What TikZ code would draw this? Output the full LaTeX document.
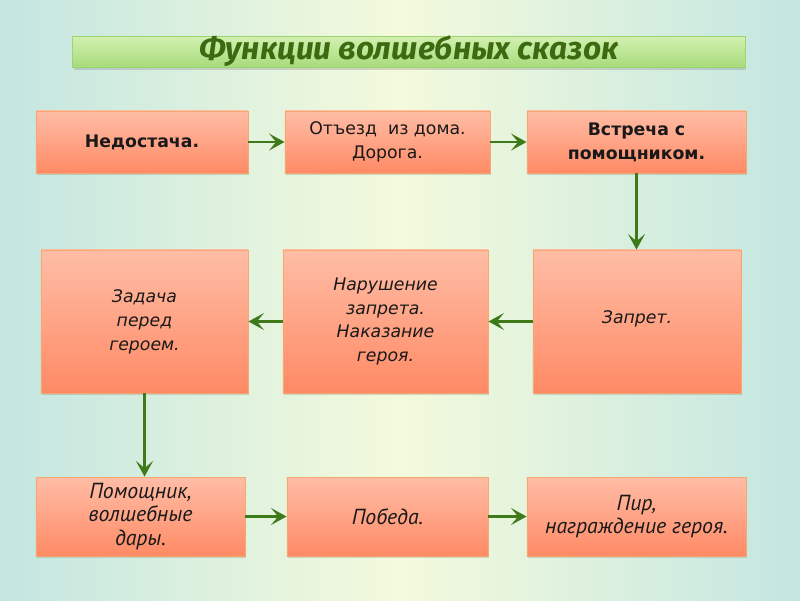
\documentclass[tikz,border=0pt]{standalone}
\usepackage{fontspec}
\setmainfont{DejaVu Sans}
\newfontfamily\titlefont{Fira Sans}
\newfontfamily\narrowfont{PT Sans}
\usetikzlibrary{arrows.meta,shadows,fadings}
\definecolor{bgteal}{HTML}{C3E6E1}
\definecolor{bgmid}{HTML}{F4FADC}
\definecolor{bandblue}{HTML}{CFEAF4}
\definecolor{boxtop}{HTML}{FFBDA6}
\definecolor{boxbot}{HTML}{FF8A65}
\definecolor{boxline}{HTML}{F5A870}
\definecolor{arrgreen}{HTML}{3E7A19}
\definecolor{titletop}{HTML}{D3F0B2}
\definecolor{titlebot}{HTML}{A7DB7B}
\definecolor{titleline}{HTML}{9CD46E}
\definecolor{titletext}{HTML}{3B6A10}
\tikzfading[name=band fade, top color=transparent!100, middle color=transparent!0, bottom color=transparent!100]
\tikzset{
	stage/.style={rectangle, draw=boxline, line width=0.6pt, top color=boxtop, bottom color=boxbot,
		align=center, inner sep=0pt, text=black!90, font=\fontsize{12.3}{17}\selectfont,
		drop shadow={opacity=0.3, shadow xshift=0.6pt, shadow yshift=-1.6pt}},
	flow/.style={line width=2.1pt, color=arrgreen, -{Stealth[length=11pt,width=12pt,inset=5pt]}},
	flowdown/.style={flow, line width=1.6pt},
	rowthree/.style={font=\narrowfont\itshape\fontsize{15.5}{17}\selectfont},
}

\begin{document}
\begin{tikzpicture}[x=0.025cm, y=-0.025cm]
		%%%%% START %%%%%
		\useasboundingbox (0, 0) rectangle (800, 600);
		
		\fill[left color=bgteal, right color=bgteal, middle color=bgmid] (0, 0) rectangle (800, 600);
		\fill[bandblue, path fading=band fade] (0, 355) rectangle (800, 455);
		
		\node[draw=titleline, line width=0.6pt, top color=titletop, bottom color=titlebot,
			minimum width=16.8cm, minimum height=0.775cm, inner sep=0pt,
			drop shadow={opacity=0.3, shadow xshift=0.5pt, shadow yshift=-2pt},
			text=titletext, font=\titlefont\bfseries\itshape\fontsize{22.5}{24}\selectfont] (title) at (409, 51.5) {Функции волшебных сказок};
		
		\node[stage, minimum width=5.3cm, minimum height=1.55cm] (lack) at (142, 142) {\bfseries Недостача.};
		\node[stage, minimum width=5.125cm, minimum height=1.55cm] (leave) at (387.5, 142) {Отъезд~~из дома.\\Дорога.};
		\node[stage, minimum width=5.475cm, minimum height=1.55cm] (helper) at (636.5, 142) {\bfseries Встреча с\\\bfseries помощником.};
		
		\node[stage, minimum width=5.175cm, minimum height=3.575cm] (task) at (144.5, 321.5) {\itshape Задача\\\itshape перед\\\itshape героем.};
		\node[stage, minimum width=5.125cm, minimum height=3.575cm] (breach) at (385.5, 321.5) {\itshape Нарушение\\\itshape запрета.\\\itshape Наказание\\\itshape героя.};
		\node[stage, minimum width=5.2cm, minimum height=3.575cm] (ban) at (637, 321.5) {\raisebox{6pt}{\itshape Запрет.}};
		
		\node[stage, rowthree, minimum width=5.225cm, minimum height=1.975cm] (gifts) at (140.5, 516.5) {Помощник,\\волшебные\\дары.};
		\node[stage, rowthree, minimum width=5.025cm, minimum height=1.975cm] (win) at (387.5, 516.5) {Победа.};
		\node[stage, rowthree, minimum width=5.475cm, minimum height=1.975cm] (feast) at (636.5, 516.5) {Пир,\\награждение героя.};
		
		\draw[flow] (lack) -- (leave);
		\draw[flow] (leave) -- (helper);
		\draw[flowdown] (helper.south) -- (helper.south |- ban.north);
		\draw[flow] (ban) -- (breach);
		\draw[flow] (breach) -- (task);
		\draw[flowdown] (task.south) -- (task.south |- gifts.north);
		\draw[flow] (gifts) -- (win);
		\draw[flow] (win) -- (feast);
		%%%%% END %%%%%
	\end{tikzpicture}
\end{document}
